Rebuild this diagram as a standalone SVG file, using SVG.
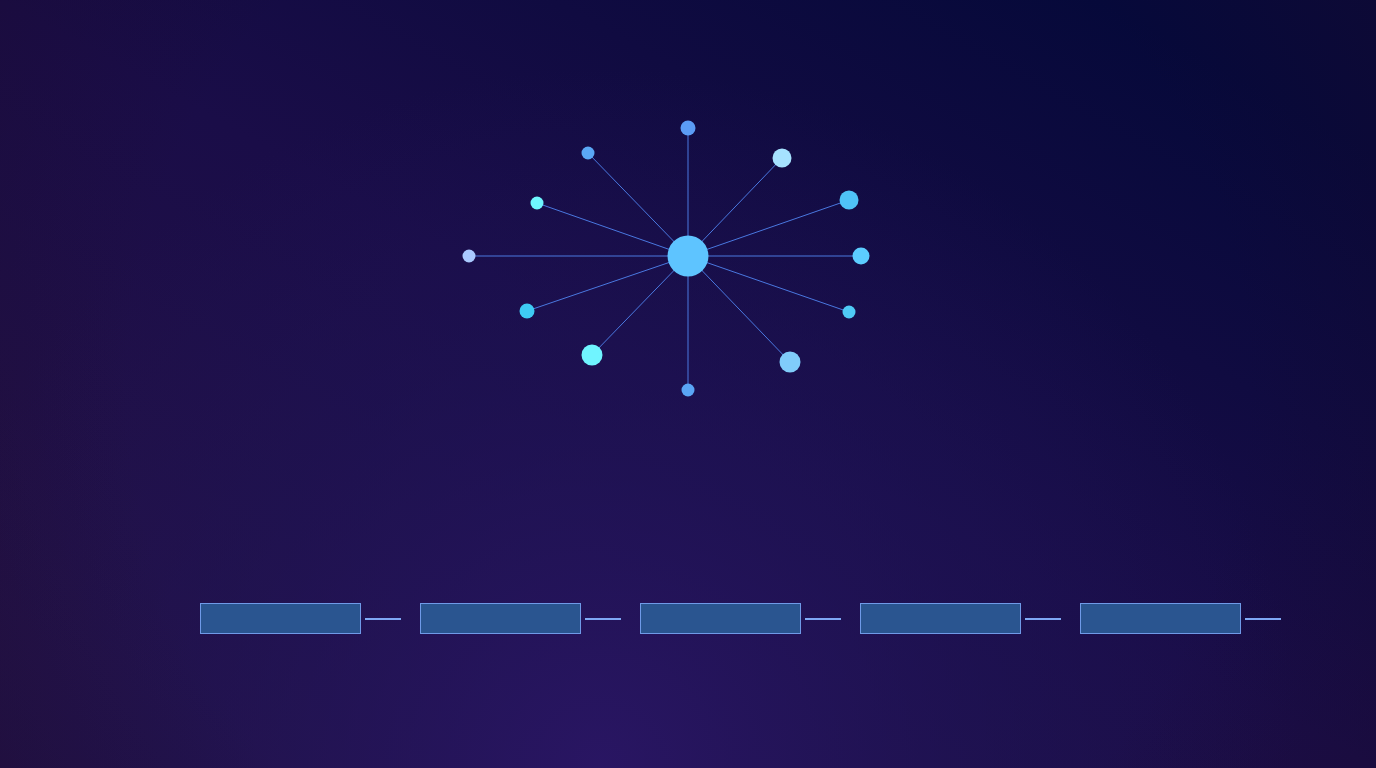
<svg xmlns="http://www.w3.org/2000/svg" width="1376" height="768" viewBox="0 0 1376 768">
<defs>
<linearGradient id="bg" x1="0" y1="0.8" x2="0.8" y2="0">
<stop offset="0" stop-color="#251246"/>
<stop offset="0.5" stop-color="#1a0d48"/>
<stop offset="1" stop-color="#06093a"/>
</linearGradient>
<radialGradient id="glow" cx="600" cy="768" r="700" gradientUnits="userSpaceOnUse">
<stop offset="0" stop-color="#2a1666" stop-opacity="0.9"/>
<stop offset="0.6" stop-color="#1e1458" stop-opacity="0.45"/>
<stop offset="1" stop-color="#1e1458" stop-opacity="0"/>
</radialGradient>
<radialGradient id="vig" cx="688" cy="384" r="860" gradientUnits="userSpaceOnUse">
<stop offset="0.65" stop-color="#1a0a2e" stop-opacity="0"/>
<stop offset="1" stop-color="#1a0a2e" stop-opacity="0.45"/>
</radialGradient>
<style>
.spoke{stroke:#4a78e0;stroke-width:1;fill:none}
.box{fill:#2a5590;stroke:#6f9ae8;stroke-width:1}
.link{stroke:#7fa8f5;stroke-width:2}
</style>
</defs>
<rect width="1376" height="768" fill="url(#bg)"/>
<rect width="1376" height="768" fill="url(#glow)"/>
<rect width="1376" height="768" fill="url(#vig)"/>
<g id="connectors">
<line class="spoke" x1="688" y1="256" x2="688" y2="128"/>
<line class="spoke" x1="688" y1="256" x2="588" y2="153"/>
<line class="spoke" x1="688" y1="256" x2="782" y2="158"/>
<line class="spoke" x1="688" y1="256" x2="537" y2="203"/>
<line class="spoke" x1="688" y1="256" x2="849" y2="200"/>
<line class="spoke" x1="688" y1="256" x2="469" y2="256"/>
<line class="spoke" x1="688" y1="256" x2="861" y2="256"/>
<line class="spoke" x1="688" y1="256" x2="527" y2="311"/>
<line class="spoke" x1="688" y1="256" x2="849" y2="312"/>
<line class="spoke" x1="688" y1="256" x2="592" y2="355"/>
<line class="spoke" x1="688" y1="256" x2="790" y2="362"/>
<line class="spoke" x1="688" y1="256" x2="688" y2="390"/>
<line class="link" x1="365" y1="619" x2="401" y2="619"/>
<line class="link" x1="585" y1="619" x2="621" y2="619"/>
<line class="link" x1="805" y1="619" x2="841" y2="619"/>
<line class="link" x1="1025" y1="619" x2="1061" y2="619"/>
<line class="link" x1="1245" y1="619" x2="1281" y2="619"/>
</g>
<g id="hub"><circle cx="688" cy="256" r="20.5" fill="#5ec4ff"/></g>
<g id="n1"><circle cx="688" cy="128" r="7.5" fill="#5b9cf5"/></g>
<g id="n2"><circle cx="588" cy="153" r="6.5" fill="#5aa8f5"/></g>
<g id="n3"><circle cx="782" cy="158" r="9.5" fill="#a6e2ff"/></g>
<g id="n4"><circle cx="537" cy="203" r="6.5" fill="#6ff7ff"/></g>
<g id="n5"><circle cx="849" cy="200" r="9.5" fill="#4fc3f7"/></g>
<g id="n6"><circle cx="469" cy="256" r="6.5" fill="#aacaff"/></g>
<g id="n7"><circle cx="861" cy="256" r="8.5" fill="#5ccdff"/></g>
<g id="n8"><circle cx="527" cy="311" r="7.5" fill="#3ecbf3"/></g>
<g id="n9"><circle cx="849" cy="312" r="6.5" fill="#4fcaf5"/></g>
<g id="n10"><circle cx="592" cy="355" r="10.5" fill="#70f4ff"/></g>
<g id="n11"><circle cx="790" cy="362" r="10.5" fill="#80ccfa"/></g>
<g id="n12"><circle cx="688" cy="390" r="6.5" fill="#5aa5f5"/></g>
<g id="b1"><rect class="box" x="200.5" y="603.5" width="160" height="30"/></g>
<g id="b2"><rect class="box" x="420.5" y="603.5" width="160" height="30"/></g>
<g id="b3"><rect class="box" x="640.5" y="603.5" width="160" height="30"/></g>
<g id="b4"><rect class="box" x="860.5" y="603.5" width="160" height="30"/></g>
<g id="b5"><rect class="box" x="1080.5" y="603.5" width="160" height="30"/></g>
</svg>
